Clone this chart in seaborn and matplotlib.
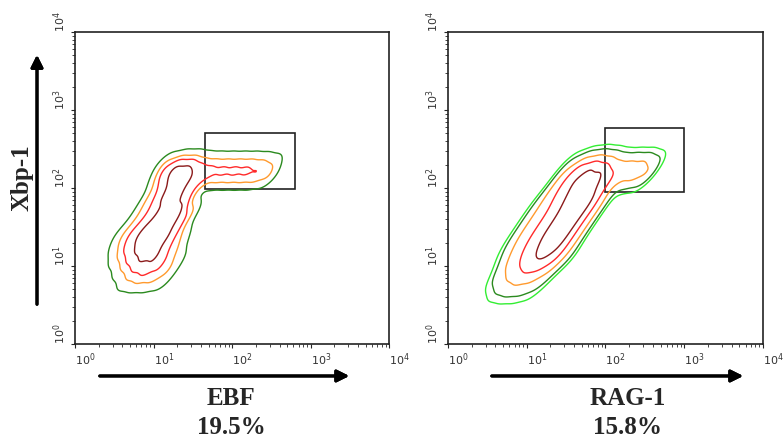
import numpy as np
import matplotlib.pyplot as plt
import seaborn as sns
from matplotlib.patches import Rectangle

# population: rows of anchor cells (log10 units) with weights
ebf_rows = [0.80, 0.95, 1.10, 1.25, 1.40, 1.55, 1.70, 1.85, 2.00, 2.15, 2.30]
ebf_cols = [
    [0.65, 0.80, 0.95, 1.10],
    [0.60, 0.75, 0.90, 1.05, 1.20],
    [0.55, 0.70, 0.85, 1.00, 1.15, 1.30],
    [0.55, 0.70, 0.85, 1.00, 1.15, 1.30],
    [0.60, 0.75, 0.90, 1.05, 1.20, 1.35],
    [0.75, 0.90, 1.05, 1.20, 1.35],
    [0.85, 1.00, 1.15, 1.30, 1.45],
    [0.95, 1.10, 1.25, 1.40],
    [1.05, 1.20, 1.35, 1.50],
    [1.10, 1.25, 1.40, 1.55, 1.70, 1.85, 2.00, 2.15, 2.30, 2.45],
    [1.15, 1.30, 1.45, 1.60, 1.75, 1.90, 2.05, 2.20, 2.35, 2.50],
]
ebf_wts = [
    [0.25, 0.35, 0.35, 0.25],
    [0.3, 0.5, 0.6, 0.5, 0.3],
    [0.3, 0.6, 0.9, 0.9, 0.5, 0.25],
    [0.3, 0.7, 1.0, 1.0, 0.6, 0.3],
    [0.3, 0.7, 1.0, 1.0, 0.8, 0.3],
    [0.3, 0.7, 1.0, 1.0, 0.5],
    [0.3, 0.6, 1.0, 1.0, 0.5],
    [0.4, 0.8, 1.0, 0.6],
    [0.4, 0.8, 0.8, 0.5],
    [0.6, 1.0, 1.0, 0.7, 0.6, 0.6, 0.6, 0.6, 0.6, 0.45],
    [0.5, 0.9, 0.9, 0.6, 0.55, 0.55, 0.55, 0.55, 0.5, 0.35],
]

rag_rows = [0.65, 0.80, 0.95, 1.10, 1.25, 1.40, 1.55, 1.70, 1.85, 2.00, 2.15, 2.30]
rag_cols = [
    [0.60, 0.75, 0.90, 1.05],
    [0.60, 0.75, 0.90, 1.05, 1.20],
    [0.70, 0.85, 1.00, 1.15, 1.30],
    [0.75, 0.90, 1.05, 1.20, 1.35, 1.50],
    [0.80, 0.95, 1.10, 1.25, 1.40, 1.55],
    [0.90, 1.05, 1.20, 1.35, 1.50, 1.65],
    [1.00, 1.15, 1.30, 1.45, 1.60, 1.75],
    [1.10, 1.25, 1.40, 1.55, 1.70, 1.85],
    [1.20, 1.35, 1.50, 1.65, 1.80, 1.95],
    [1.35, 1.50, 1.65, 1.80, 1.95],
    [1.45, 1.60, 1.75, 1.90, 2.05, 2.20, 2.35, 2.50],
    [1.55, 1.70, 1.85, 2.00, 2.15, 2.30, 2.45, 2.60],
]
rag_wts = [
    [0.15, 0.2, 0.2, 0.15],
    [0.2, 0.3, 0.35, 0.3, 0.2],
    [0.3, 0.45, 0.6, 0.5, 0.3],
    [0.3, 0.5, 0.8, 1.0, 0.7, 0.3],
    [0.3, 0.5, 0.8, 1.0, 0.9, 0.4],
    [0.3, 0.5, 0.8, 1.0, 0.9, 0.4],
    [0.3, 0.5, 0.8, 1.0, 0.9, 0.4],
    [0.3, 0.5, 0.8, 1.0, 0.9, 0.4],
    [0.3, 0.5, 0.8, 1.0, 1.0, 0.5],
    [0.4, 0.8, 1.1, 1.1, 0.6],
    [0.4, 0.8, 1.0, 1.0, 0.6, 0.55, 0.6, 0.5],
    [0.3, 0.7, 0.9, 0.7, 0.5, 0.55, 0.55, 0.35],
]

ebf_levels = [0.03, 0.15, 0.35, 0.65]
ebf_colors = ["#2b8a1f", "#ff9a2e", "#ff2a2a", "#8b1a1a"]
rag_levels = [0.025, 0.06, 0.18, 0.4, 0.68]
rag_colors = ["#33ee33", "#2b8a1f", "#ff9a2e", "#ff2a2a", "#8b1a1a"]
bandwidths = [0.45, 0.6]

# gates: x0, x1, y0, y1
ebf_gate = [45, 635, 97, 507]
rag_gate = [100, 1000, 90, 590]

markers = ["EBF", "RAG-1"]
percents = ["19.5%", "15.8%"]
y_label = "Xbp-1"
tick_vals = [1, 10, 100, 1000, 10000]
tick_labels = ["$10^{0}$", "$10^{1}$", "$10^{2}$", "$10^{3}$", "$10^{4}$"]


def flatten(rows, cols, wts):
    xs, ys, ws = [], [], []
    for y, cx, cw in zip(rows, cols, wts):
        xs += cx
        ys += [y] * len(cx)
        ws += cw
    return 10 ** np.array(xs), 10 ** np.array(ys), ws


sns.set_style("white")
fig = plt.figure(figsize=(7.84, 4.38), dpi=100)
ax1 = fig.add_axes([0.0957, 0.2146, 0.401, 0.7123])
ax2 = fig.add_axes([0.5714, 0.2146, 0.4018, 0.7123])

panels = [
    (ax1, flatten(ebf_rows, ebf_cols, ebf_wts), ebf_levels, ebf_colors, ebf_gate, bandwidths[0]),
    (ax2, flatten(rag_rows, rag_cols, rag_wts), rag_levels, rag_colors, rag_gate, bandwidths[1]),
]
for ax, (xs, ys, ws), lv, cols, gate, bw in panels:
    sns.kdeplot(x=xs, y=ys, weights=ws, log_scale=True, levels=lv, colors=cols,
                linewidths=1.0, bw_adjust=bw, gridsize=200, ax=ax)
    ax.add_patch(Rectangle((gate[0], gate[2]), gate[1] - gate[0], gate[3] - gate[2],
                           fill=False, edgecolor="#222222", linewidth=1.2))
    ax.set_xlim(1, 10000)
    ax.set_ylim(1, 10000)
    ax.set_xlabel("")
    ax.set_ylabel("")
    ax.set_xticks(tick_vals)
    ax.set_xticklabels(tick_labels, ha="left", fontsize=8, color="#333333")
    ax.set_yticks(tick_vals)
    ax.set_yticklabels(tick_labels, rotation=90, va="bottom", fontsize=8, color="#333333")
    ax.tick_params(which="major", direction="out", length=3, width=0.8, pad=2)
    ax.tick_params(which="minor", direction="out", length=2, width=0.6)
    ax.tick_params(axis="both", which="both", bottom=True, left=True)
    for sp in ax.spines.values():
        sp.set_color("#222222")
        sp.set_linewidth(1.2)

# axis arrows
arrow = dict(arrowstyle="-|>", color="black", lw=2.2, mutation_scale=18)
fig.add_artist(plt.annotate("", xy=(0.0472, 0.881), xytext=(0.0472, 0.299),
                            xycoords="figure fraction", arrowprops=arrow))
fig.add_artist(plt.annotate("", xy=(0.449, 0.1416), xytext=(0.1237, 0.1416),
                            xycoords="figure fraction", arrowprops=arrow))
fig.add_artist(plt.annotate("", xy=(0.9515, 0.1416), xytext=(0.6237, 0.1416),
                            xycoords="figure fraction", arrowprops=arrow))

serif = dict(family="Liberation Serif", fontweight="bold", fontsize=18)
fig.text(0.028, 0.594, y_label, rotation=90, ha="center", va="center", **serif)
for xc, m, p in zip([0.2946, 0.801], markers, percents):
    fig.text(xc, 0.091, m, ha="center", va="center", **serif)
    fig.text(xc, 0.025, p, ha="center", va="center", **serif)

fig.savefig("out.png", dpi=100)
